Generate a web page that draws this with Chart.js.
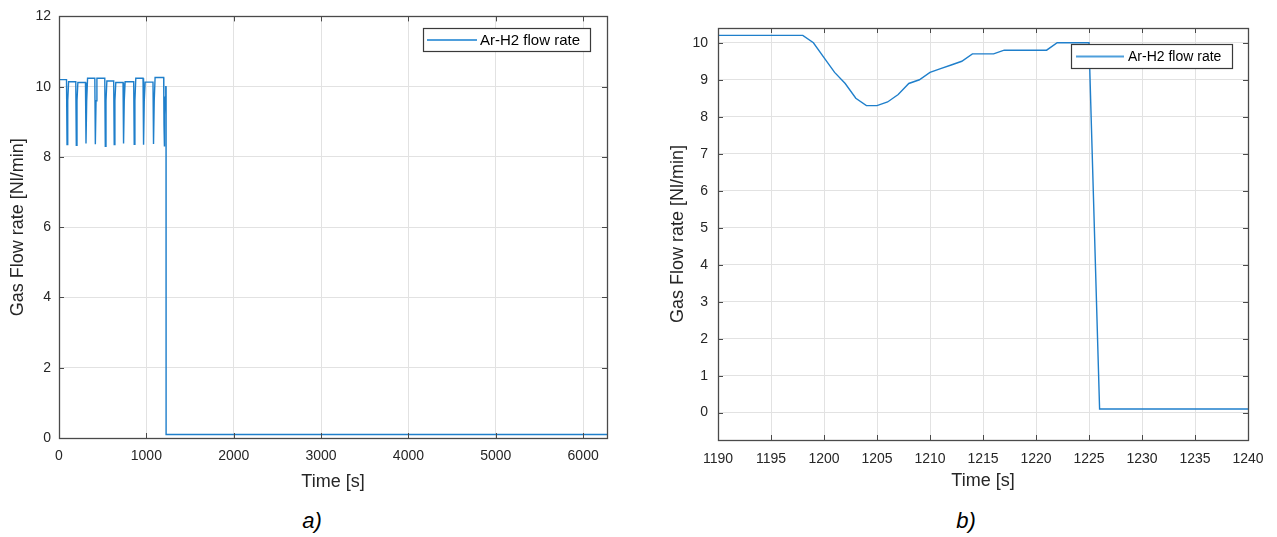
<!DOCTYPE html>
<html>
<head>
<meta charset="utf-8">
<title>Ar-H2 flow rate</title>
<script src="https://cdn.jsdelivr.net/npm/chart.js@4/dist/chart.umd.min.js"></script>
<style>
  html, body { margin: 0; padding: 0; background: #fff; }
  #page { position: relative; width: 1277px; height: 537px; overflow: hidden; background: #fff; }
  canvas { position: absolute; top: 0; }
  #chart-a { left: 0; }
  #chart-b { left: 640px; }
  .cap { position: absolute; top: 521px; transform: translate(-50%, -50%);
         font: italic 22px "Liberation Sans", Arial, sans-serif; color: #000; }
</style>
</head>
<body>
<div id="page">
  <canvas id="chart-a" width="620" height="500"></canvas>
  <canvas id="chart-b" width="637" height="500"></canvas>
  <div class="cap" style="left:312px">a)</div>
  <div class="cap" style="left:966px">b)</div>
</div>
<script>
// a) whole run
const timeA = [0, 86, 92, 100, 110, 192, 198, 206, 216, 303, 309, 317, 327, 410, 416, 424, 434,
  524, 530, 538, 548, 626, 632, 640, 650, 733, 739, 747, 757, 855, 861, 869, 879,
  962, 968, 976, 986, 1076, 1082, 1090, 1100, 1198, 1200, 1202, 1204, 1206, 1208, 1210,
  1214, 1222, 1225, 1226, 6273];
const flowA = [10.2, 10.2, 8.35, 9.6, 10.14, 10.14, 8.33, 9.6, 10.12, 10.12, 8.38, 9.6, 10.24,
  10.24, 8.36, 9.6, 10.24, 10.24, 8.3, 9.6, 10.16, 10.16, 8.35, 9.6, 10.12, 10.12, 8.38, 9.6, 10.14,
  10.14, 8.36, 9.6, 10.24, 10.24, 8.35, 9.6, 10.13, 10.13, 8.37, 9.6, 10.26, 10.26, 9.6, 8.9, 8.3,
  8.4, 8.9, 9.2, 9.7, 10.0, 10.0, 0.1, 0.1];
const xTicksA = [0, 1000, 2000, 3000, 4000, 5000, 6000];
const yTicksA = [0, 2, 4, 6, 8, 10, 12];

// b) zoom on the end of the run
const timeB = [1190, 1198, 1199, 1200, 1201, 1202, 1203, 1204, 1205, 1206, 1207, 1208, 1209,
  1210, 1211, 1212, 1213, 1214, 1216, 1217, 1221, 1222, 1225, 1226, 1240];
const flowB = [10.2, 10.2, 10.0, 9.6, 9.2, 8.9, 8.5, 8.3, 8.3, 8.4, 8.6, 8.9, 9.0,
  9.2, 9.3, 9.4, 9.5, 9.7, 9.7, 9.8, 9.8, 10.0, 10.0, 0.1, 0.1];
const xTicksB = [1190, 1195, 1200, 1205, 1210, 1215, 1220, 1225, 1230, 1235, 1240];
const yTicksB = [0, 1, 2, 3, 4, 5, 6, 7, 8, 9, 10];

const seriesLabel = 'Ar-H2 flow rate';
const lineColor = '#1f7fcb';
const fontFamily = '"Liberation Sans", Arial, sans-serif';
const inkColor = '#262626';

// matlab style box: frame, inward ticks, boxed legend
const matlabBox = {
  id: 'matlabBox',
  afterDatasetsDraw(chart, args, opts) {
    const { ctx, chartArea: a, scales: { x, y } } = chart;
    ctx.save();
    ctx.strokeStyle = '#4a4a4a';
    ctx.lineWidth = 1;
    ctx.beginPath();
    for (const t of x.ticks) {
      const px = Math.round(x.getPixelForValue(t.value)) + 0.5;
      ctx.moveTo(px, a.bottom); ctx.lineTo(px, a.bottom - 5);
      ctx.moveTo(px, a.top); ctx.lineTo(px, a.top + 5);
    }
    for (const t of y.ticks) {
      const py = Math.round(y.getPixelForValue(t.value)) + 0.5;
      ctx.moveTo(a.left, py); ctx.lineTo(a.left + 5, py);
      ctx.moveTo(a.right, py); ctx.lineTo(a.right - 5, py);
    }
    ctx.stroke();
    ctx.lineWidth = 1.3;
    ctx.strokeRect(Math.round(a.left) + 0.5, Math.round(a.top) + 0.5,
      Math.round(a.right - a.left), Math.round(a.bottom - a.top));

    // legend
    const b = opts.legend;
    ctx.fillStyle = '#fff';
    ctx.fillRect(b.x, b.y, b.w, b.h);
    ctx.lineWidth = 1.2;
    ctx.strokeStyle = '#3a3a3a';
    ctx.strokeRect(b.x + 0.5, b.y + 0.5, b.w, b.h);
    const midY = b.y + b.h / 2 + 0.5;
    ctx.strokeStyle = '#4f9fdc';
    ctx.lineWidth = 2;
    ctx.beginPath();
    ctx.moveTo(b.x + b.lineFrom, midY);
    ctx.lineTo(b.x + b.lineTo, midY);
    ctx.stroke();
    ctx.fillStyle = '#000';
    ctx.font = b.fontSize + 'px ' + fontFamily;
    ctx.textBaseline = 'middle';
    ctx.fillText(chart.data.datasets[0].label, b.x + b.textAt, midY + 1);
    ctx.restore();
  }
};

function makeChart(canvas, times, flows, xr, yr, xTicks, yTicks, lay) {
  return new Chart(canvas, {
    type: 'line',
    data: {
      datasets: [{
        label: seriesLabel,
        data: times.map((t, i) => ({ x: t, y: flows[i] })),
        borderColor: lineColor,
        borderWidth: 1.4,
        pointRadius: 0,
        tension: 0,
        fill: false
      }]
    },
    options: {
      responsive: false,
      animation: false,
      devicePixelRatio: 1,
      layout: { padding: { left: 0, right: lay.right, top: lay.top, bottom: 0 } },
      plugins: {
        legend: { display: false },
        tooltip: { enabled: false },
        matlabBox: { legend: lay.legend }
      },
      scales: {
        x: {
          type: 'linear',
          min: xr[0], max: xr[1],
          afterBuildTicks: s => { s.ticks = xTicks.map(v => ({ value: v })); },
          afterFit: s => { s.height = lay.xHeight; },
          grid: { color: '#e2e2e2', lineWidth: 1, drawTicks: false },
          border: { display: false },
          ticks: { padding: lay.xTickPad, color: inkColor, maxRotation: 0,
                   callback: v => String(v),
                   font: { family: fontFamily, size: 14 } },
          title: { display: true, text: 'Time [s]', color: inkColor,
                   font: { family: fontFamily, size: 18 },
                   padding: { top: 0, bottom: lay.xTitlePad } }
        },
        y: {
          type: 'linear',
          min: yr[0], max: yr[1],
          afterBuildTicks: s => { s.ticks = yTicks.map(v => ({ value: v })); },
          afterFit: s => { s.width = lay.yWidth; },
          grid: { color: '#e2e2e2', lineWidth: 1, drawTicks: false },
          border: { display: false },
          ticks: { padding: lay.yTickPad, color: inkColor,
                   callback: v => String(v),
                   font: { family: fontFamily, size: 14 } },
          title: { display: true, text: 'Gas Flow rate [Nl/min]', color: inkColor,
                   font: { family: fontFamily, size: 18 },
                   padding: { top: lay.yTitlePad, bottom: 0 } }
        }
      }
    },
    plugins: [matlabBox]
  });
}

makeChart(document.getElementById('chart-a'), timeA, flowA, [0, 6273], [0, 12], xTicksA, yTicksA, {
  right: 13, top: 13, xHeight: 62, yWidth: 59, xTickPad: 10, xTitlePad: 7, yTickPad: 8, yTitlePad: 7,
  legend: { x: 423, y: 28, w: 167, h: 23, lineFrom: 4, lineTo: 54, textAt: 57, fontSize: 15 }
});

makeChart(document.getElementById('chart-b'), timeB, flowB, [1190, 1240], [-0.74, 10.4], xTicksB, yTicksB, {
  right: 29, top: 28, xHeight: 60, yWidth: 78, xTickPad: 11, xTitlePad: 8, yTickPad: 10, yTitlePad: 27,
  legend: { x: 431, y: 44, w: 161, h: 24, lineFrom: 5, lineTo: 53, textAt: 57, fontSize: 14 }
});
</script>
</body>
</html>
